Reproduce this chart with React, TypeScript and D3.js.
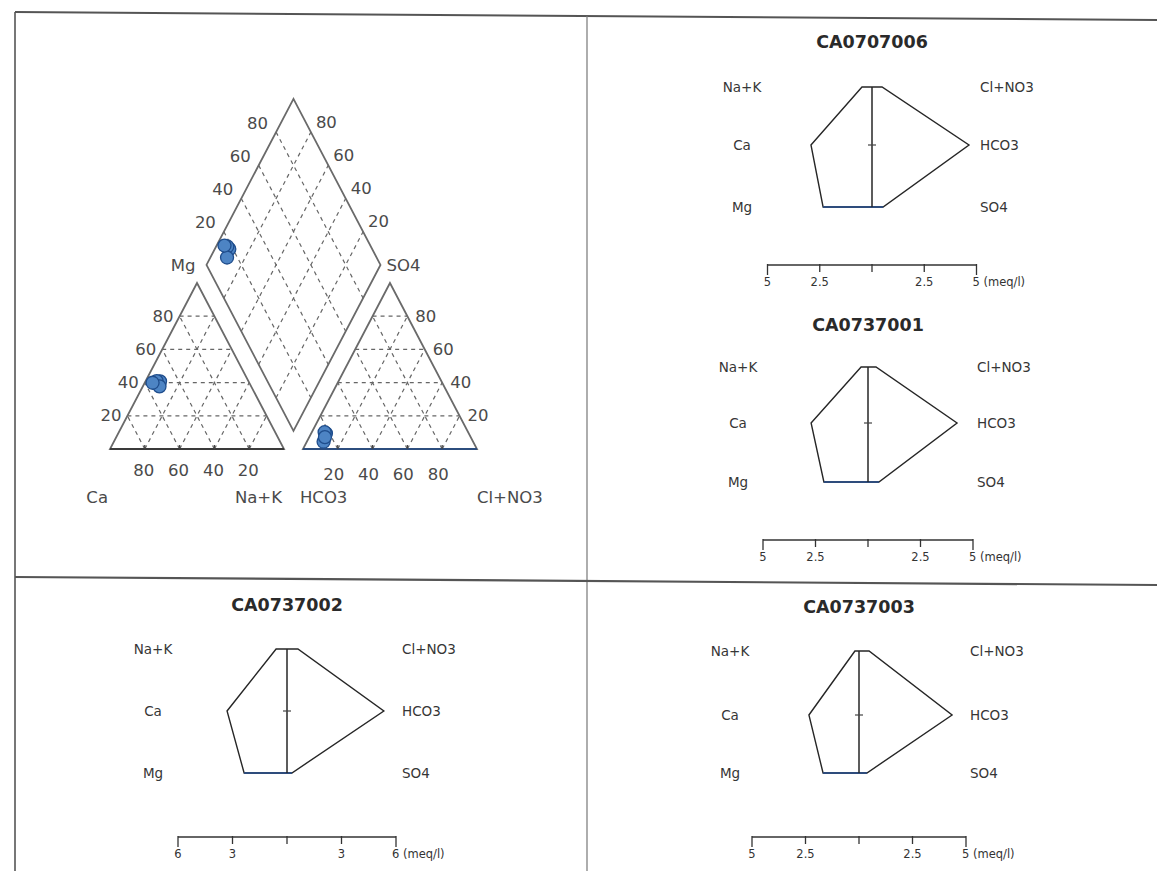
import React from "react";
import * as d3 from "d3";

// ---------- DATA (meq/l) ----------
const samples = ["CA0707006", "CA0737001", "CA0737002", "CA0737003"];
const naK = [0.48, 0.33, 0.6, 0.19];
const ca = [2.92, 2.71, 3.3, 2.34];
const mg = [2.34, 2.1, 2.36, 1.68];
const clNo3 = [0.48, 0.38, 0.6, 0.47];
const hco3 = [4.64, 4.24, 5.33, 4.35];
const so4 = [0.53, 0.52, 0.27, 0.37];
const scaleMax = [5, 5, 6, 5];
const piperTicks = [20, 40, 60, 80];
const cationLabels = ["Na+K", "Ca", "Mg"];
const anionLabels = ["Cl+NO3", "HCO3", "SO4"];

// ---------- LAYOUT ----------
const W = 1157;
const H = 871;
const GAP = 0.109;
const xS = d3.scaleLinear().domain([0, 1]).range([110, 284]);
const yS = d3.scaleLinear().domain([0, 1]).range([449, 283]);
const P = (u: number, v: number): [number, number] => [xS(u), yS(v)];

const panels = [
  { cx: 872, titleY: 48, rows: [87, 145, 207], axisY: 265, halfW: 104.5, lOff: 130, rOff: 108 },
  { cx: 868, titleY: 331, rows: [367, 423, 482], axisY: 540, halfW: 105, lOff: 130, rOff: 109 },
  { cx: 287, titleY: 611, rows: [649, 711, 773], axisY: 837, halfW: 109, lOff: 134, rOff: 115 },
  { cx: 859, titleY: 613, rows: [651, 715, 773], axisY: 837, halfW: 107, lOff: 129, rOff: 111 },
];

const piperFont = "'DejaVu Sans', sans-serif";
const textCol = "#4a4a4a";
const lineFn = d3.line<[number, number]>();

function Piper() {
  const edge = "#6a6a6a";
  const grid: JSX.Element[] = [];
  const seg = (a: [number, number], b: [number, number], key: string) => (
    <line key={key} x1={a[0]} y1={a[1]} x2={b[0]} y2={b[1]} stroke="#666" strokeWidth={1.2} strokeDasharray="4 4" />
  );
  const dA = (a: number, b: number) => P((a + 1 + GAP + b) / 2, 1 + GAP + b - a);
  piperTicks.forEach((tk) => {
    const t = tk / 100;
    [0, 1 + GAP].forEach((off, k) => {
      grid.push(seg(P(off + t / 2, t), P(off + 1 - t / 2, t), `h${k}${tk}`));
      grid.push(seg(P(off + t, 0), P(off + t + (1 - t) / 2, 1 - t), `a${k}${tk}`));
      grid.push(seg(P(off + 1 - t, 0), P(off + (1 - t) / 2, 1 - t), `b${k}${tk}`));
    });
    grid.push(seg(dA(t, 0), dA(t, 1), `da${tk}`));
    grid.push(seg(dA(0, t), dA(1, t), `db${tk}`));
  });

  const cat = [P(0, 0), P(1, 0), P(0.5, 1)];
  const an = [P(1 + GAP, 0), P(2 + GAP, 0), P(1.5 + GAP, 1)];
  const dia = [dA(0, 0), dA(1, 0), dA(1, 1), dA(0, 1)];

  const pts = samples.map((_, i) => {
    const ct = naK[i] + ca[i] + mg[i];
    const at = clNo3[i] + hco3[i] + so4[i];
    const a = naK[i] / ct;
    const m = mg[i] / ct;
    const c = clNo3[i] / at;
    const s = so4[i] / at;
    return {
      cat: P(a + m / 2, m),
      an: P(1 + GAP + c + s / 2, s),
      dia: dA(a, c + s),
    };
  });

  const txt = (x: number, y: number, s: string, anchor: string, key: string) => (
    <text key={key} x={x} y={y} textAnchor={anchor} dominantBaseline="central" fontFamily={piperFont} fontSize={16.5} fill={textCol}>
      {s}
    </text>
  );

  const labels: JSX.Element[] = [];
  piperTicks.forEach((tk) => {
    const t = tk / 100;
    const l = P(t / 2, t);
    labels.push(txt(l[0] - 6, l[1], String(tk), "end", `cl${tk}`));
    const r = P(2 + GAP - t / 2, t);
    labels.push(txt(r[0] + 8, r[1], String(tk), "start", `ar${tk}`));
    const cb = P(1 - t, 0);
    labels.push(txt(cb[0] - 1, 470, String(tk), "middle", `cb${tk}`));
    const ab = P(1 + GAP + t, 0);
    labels.push(txt(ab[0] - 4, 474, String(tk), "middle", `ab${tk}`));
    const ul = dA(0, t);
    labels.push(txt(ul[0] - 8, ul[1] - 9, String(tk), "end", `ul${tk}`));
    const ur = dA(1 - t, 1);
    labels.push(txt(ur[0] + 5, ur[1] - 10, String(tk), "start", `ur${tk}`));
  });

  const ticks: JSX.Element[] = [];
  piperTicks.forEach((tk) => {
    const t = tk / 100;
    [P(t, 0), P(1 + GAP + t, 0)].forEach((p, k) => {
      ticks.push(<line key={`t${k}${tk}`} x1={p[0]} y1={p[1]} x2={p[0]} y2={p[1] - 4} stroke="#444" strokeWidth={1.3} />);
    });
  });

  return (
    <g>
      {grid}
      <path d={lineFn(cat) + "Z"} fill="none" stroke={edge} strokeWidth={1.8} />
      <path d={lineFn(an) + "Z"} fill="none" stroke={edge} strokeWidth={1.8} />
      <path d={lineFn(dia) + "Z"} fill="none" stroke={edge} strokeWidth={1.8} />
      <line x1={cat[0][0]} y1={cat[0][1]} x2={cat[1][0]} y2={cat[1][1]} stroke="#3a3a3a" strokeWidth={2} />
      <line x1={an[0][0]} y1={an[0][1]} x2={an[1][0]} y2={an[1][1]} stroke="#2c4d7e" strokeWidth={2} />
      {ticks}
      {labels}
      {txt(dia[0][0] - 11, dia[0][1] + 1, "Mg", "end", "mg")}
      {txt(dia[2][0] + 6, dia[2][1] + 1, "SO4", "start", "so4")}
      {txt(cat[0][0] - 2, 497, "Ca", "end", "ca")}
      {txt(cat[1][0] - 2, 497, "Na+K", "end", "nak")}
      {txt(an[0][0] - 3, 497, "HCO3", "start", "hco3")}
      {txt(an[1][0], 497, "Cl+NO3", "start", "cl")}
      {pts.map((p, i) => (
        <g key={`pt${i}`}>
          {[p.cat, p.dia, p.an].map((q, j) => (
            <circle key={j} cx={q[0]} cy={q[1]} r={6.5} fill="#4d84c4" stroke="#1f4d8c" strokeWidth={1.3} />
          ))}
        </g>
      ))}
    </g>
  );
}

function Stiff({ i }: { i: number }) {
  const L = panels[i];
  const sx = d3.scaleLinear().domain([-scaleMax[i], scaleMax[i]]).range([L.cx - L.halfW, L.cx + L.halfW]);
  const [r0, r1, r2] = L.rows;
  const poly: [number, number][] = [
    [sx(-naK[i]), r0],
    [sx(-ca[i]), r1],
    [sx(-mg[i]), r2],
    [sx(so4[i]), r2],
    [sx(hco3[i]), r1],
    [sx(clNo3[i]), r0],
  ];
  const m = scaleMax[i];
  const tickVals = [-m, -m / 2, 0, m / 2, m];
  const lbl = { fontFamily: piperFont, fontSize: 13.5, fill: "#363636" };
  return (
    <g>
      <text x={L.cx} y={L.titleY} textAnchor="middle" fontFamily={piperFont} fontWeight="bold" fontSize={17.5} fill="#2a2a2a">
        {samples[i]}
      </text>
      {cationLabels.map((s, k) => (
        <text key={s} x={L.cx - L.lOff} y={L.rows[k]} dominantBaseline="central" textAnchor="middle" {...lbl}>
          {s}
        </text>
      ))}
      {anionLabels.map((s, k) => (
        <text key={s} x={L.cx + L.rOff} y={L.rows[k]} dominantBaseline="central" textAnchor="start" {...lbl}>
          {s}
        </text>
      ))}
      <path d={lineFn(poly) + "Z"} fill="none" stroke="#262626" strokeWidth={1.4} />
      <line x1={sx(-mg[i])} y1={r2} x2={sx(so4[i])} y2={r2} stroke="#2e4c7c" strokeWidth={2} />
      <line x1={sx(0)} y1={r0} x2={sx(0)} y2={r2} stroke="#262626" strokeWidth={1.5} />
      <line x1={sx(0) - 4} y1={r1} x2={sx(0) + 4} y2={r1} stroke="#444" strokeWidth={1.2} />
      <line x1={sx(-m)} y1={L.axisY} x2={sx(m)} y2={L.axisY} stroke="#333" strokeWidth={1.5} />
      {tickVals.map((v, k) => (
        <line key={k} x1={sx(v)} y1={L.axisY - 1} x2={sx(v)} y2={L.axisY + (k === 0 || k === 4 ? 10 : 7)} stroke="#333" strokeWidth={1.3} />
      ))}
      {tickVals.map((v, k) => {
        if (k === 2) return null;
        const s = String(Math.abs(v));
        if (k === 4)
          return (
            <text key={k} x={sx(v) - 4} y={L.axisY + 17} dominantBaseline="central" fontFamily={piperFont} fontSize={11.5} fill="#333">
              {s + " (meq/l)"}
            </text>
          );
        return (
          <text key={k} x={sx(v)} y={L.axisY + 17} dominantBaseline="central" textAnchor="middle" fontFamily={piperFont} fontSize={11.5} fill="#333">
            {s}
          </text>
        );
      })}
    </g>
  );
}

export default function App() {
  return (
    <svg width={W} height={H} style={{ position: "absolute", left: 0, top: 0, background: "#fff" }}>
      <rect x={0} y={0} width={W} height={H} fill="#fff" />
      <line x1={15} y1={12} x2={W} y2={20} stroke="#555" strokeWidth={2} />
      <line x1={15} y1={12} x2={15} y2={H} stroke="#555" strokeWidth={1.6} />
      <line x1={587} y1={16} x2={587} y2={H} stroke="#777" strokeWidth={1.2} />
      <line x1={15} y1={577} x2={W} y2={585} stroke="#555" strokeWidth={2.2} />
      <Piper />
      {samples.map((_, i) => (
        <Stiff key={i} i={i} />
      ))}
    </svg>
  );
}
